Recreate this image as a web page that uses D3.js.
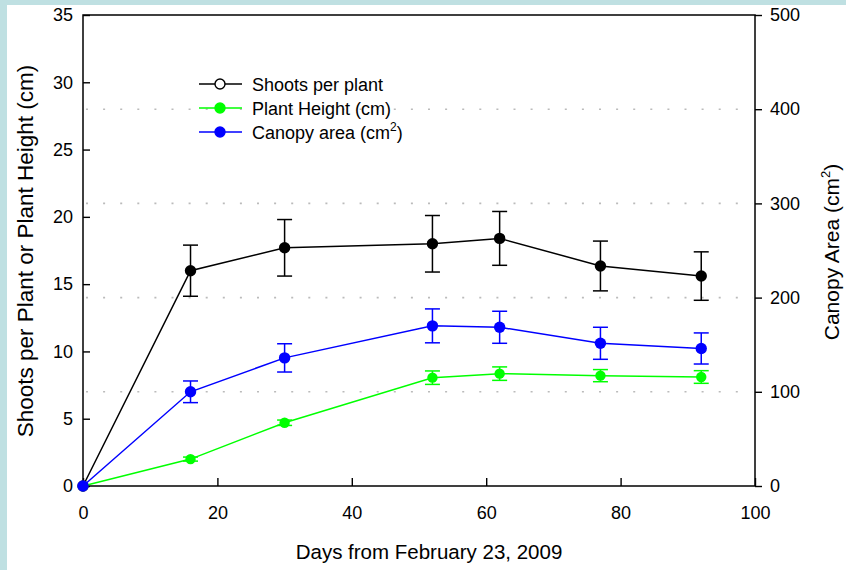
<!DOCTYPE html>
<html>
<head>
<meta charset="utf-8">
<script src="https://cdn.jsdelivr.net/npm/d3@7"></script>
<style>
  html, body { margin: 0; padding: 0; background: #bfe0e2; }
  svg { display: block; }
  text { font-family: "Liberation Sans", Arial, sans-serif; fill: #000; }
</style>
</head>
<body>
<svg id="chart" width="846" height="570"></svg>
<script>
// Sampling days since February 23, 2009
const days = [0, 16, 30, 52, 62, 77, 92];

// Shoots per plant (left axis)
const shoots    = [0, 16.0, 17.7, 18.0, 18.4, 16.35, 15.6];
const shootsErr = [0, 1.9, 2.1, 2.1, 2.0, 1.85, 1.8];

// Plant height, cm (left axis)
const height    = [0, 2.0, 4.7, 8.05, 8.35, 8.2, 8.1];
const heightErr = [0, 0.15, 0.2, 0.5, 0.5, 0.45, 0.47];

// Canopy area, cm² (right axis)
const canopy    = [0, 100, 136, 170, 168.5, 151.5, 146];
const canopyErr = [0, 11.5, 15, 18, 17, 17, 16.5];

const xTicks = [0, 20, 40, 60, 80, 100];
const leftTicks = [0, 5, 10, 15, 20, 25, 30, 35];
const rightTicks = [0, 100, 200, 300, 400, 500];
const gridValues = [100, 200, 300, 400];

const svg = d3.select("#chart");

// white panel over the light blue page
svg.append("rect").attr("x", 7).attr("y", 5).attr("width", 839).attr("height", 565).attr("fill", "#fff");

const L = 83, R = 755, T = 15, B = 486;
const x = d3.scaleLinear().domain([0, 100]).range([L, R]);
const yL = d3.scaleLinear().domain([0, 35]).range([B, T]);
const yR = d3.scaleLinear().domain([0, 500]).range([B, T]);

// dotted horizontal grid
svg.append("g").selectAll("line").data(gridValues).join("line")
  .attr("x1", L + 3).attr("x2", R - 2)
  .attr("y1", d => yR(d)).attr("y2", d => yR(d))
  .attr("stroke", "#bbb").attr("stroke-width", 1.6)
  .attr("stroke-dasharray", "2,15.1");

// axes
const axisStyle = g => {
  g.selectAll(".domain").remove();
  g.selectAll(".tick line").attr("stroke", "#000").attr("stroke-width", 1.4);
  g.selectAll(".tick text").style("font-size", "18px")
    .style("font-family", "'Liberation Sans', Arial, sans-serif");
};

svg.append("g").attr("transform", `translate(${L},0)`)
  .call(d3.axisLeft(yL).tickValues(leftTicks).tickFormat(d3.format("d")).tickSizeInner(-7).tickPadding(10))
  .call(axisStyle);

svg.append("g").attr("transform", `translate(${R},0)`)
  .call(d3.axisRight(yR).tickValues(rightTicks).tickFormat(d3.format("d")).tickSizeInner(7).tickPadding(8))
  .call(axisStyle);

svg.append("g").attr("transform", `translate(0,${B})`)
  .call(d3.axisBottom(x).tickValues(xTicks).tickFormat(d3.format("d")).tickSizeInner(-8).tickPadding(20))
  .call(axisStyle);

// frame
svg.append("rect").attr("x", L).attr("y", T).attr("width", R - L).attr("height", B - T)
  .attr("fill", "none").attr("stroke", "#000").attr("stroke-width", 1.5);

// series
function drawSeries(vals, errs, yScale, color, r) {
  const pts = days.map((d, i) => ({ d, v: vals[i], e: errs[i] }));
  const g = svg.append("g");
  g.append("path").datum(pts)
    .attr("fill", "none").attr("stroke", color).attr("stroke-width", 1.5)
    .attr("d", d3.line().x(p => x(p.d)).y(p => yScale(p.v)));
  const eb = g.selectAll("g.err").data(pts.filter(p => p.e > 0)).join("g");
  eb.append("line")
    .attr("x1", p => x(p.d)).attr("x2", p => x(p.d))
    .attr("y1", p => yScale(p.v + p.e)).attr("y2", p => yScale(p.v - p.e))
    .attr("stroke", color).attr("stroke-width", 1.5);
  [1, -1].forEach(s => {
    eb.append("line")
      .attr("x1", p => x(p.d) - 7.5).attr("x2", p => x(p.d) + 7.5)
      .attr("y1", p => yScale(p.v + s * p.e)).attr("y2", p => yScale(p.v + s * p.e))
      .attr("stroke", color).attr("stroke-width", 1.5);
  });
  g.selectAll("circle").data(pts).join("circle")
    .attr("cx", p => x(p.d)).attr("cy", p => yScale(p.v)).attr("r", r)
    .attr("fill", color);
}

drawSeries(shoots, shootsErr, yL, "#000", 5.7);
drawSeries(height, heightErr, yL, "#00ff00", 5.2);
drawSeries(canopy, canopyErr, yR, "#0000ff", 5.7);

// legend
const legend = [
  { label: "Shoots per plant", color: "#000", open: true },
  { label: "Plant Height (cm)", color: "#00ff00", open: false },
  { label: "Canopy area (cm", sup: "2", tail: ")", color: "#0000ff", open: false }
];
const lg = svg.append("g");
legend.forEach((it, i) => {
  const yy = 84 + i * 24;
  lg.append("line").attr("x1", 199).attr("x2", 242).attr("y1", yy).attr("y2", yy)
    .attr("stroke", it.color).attr("stroke-width", 1.5);
  lg.append("circle").attr("cx", 220).attr("cy", yy).attr("r", 5)
    .attr("fill", it.open ? "#fff" : it.color).attr("stroke", it.color).attr("stroke-width", 1.4);
  const t = lg.append("text").attr("x", 252).attr("y", yy + 6.5).style("font-size", "18px").text(it.label);
  if (it.sup) {
    t.append("tspan").attr("dy", -8).style("font-size", "12px").text(it.sup);
    t.append("tspan").attr("dy", 8).text(it.tail);
  }
});

// axis titles
svg.append("text").attr("x", 429).attr("y", 559).attr("text-anchor", "middle")
  .style("font-size", "20.5px").text("Days from February 23, 2009");

svg.append("text").attr("transform", "translate(33,251) rotate(-90)").attr("text-anchor", "middle")
  .style("font-size", "22.5px").text("Shoots per Plant or Plant Height (cm)");

const rt = svg.append("text").attr("transform", "translate(839,252) rotate(-90)").attr("text-anchor", "middle")
  .style("font-size", "21px").text("Canopy Area (cm");
rt.append("tspan").attr("dy", -9).style("font-size", "13px").text("2");
rt.append("tspan").attr("dy", 9).text(")");
</script>
</body>
</html>
